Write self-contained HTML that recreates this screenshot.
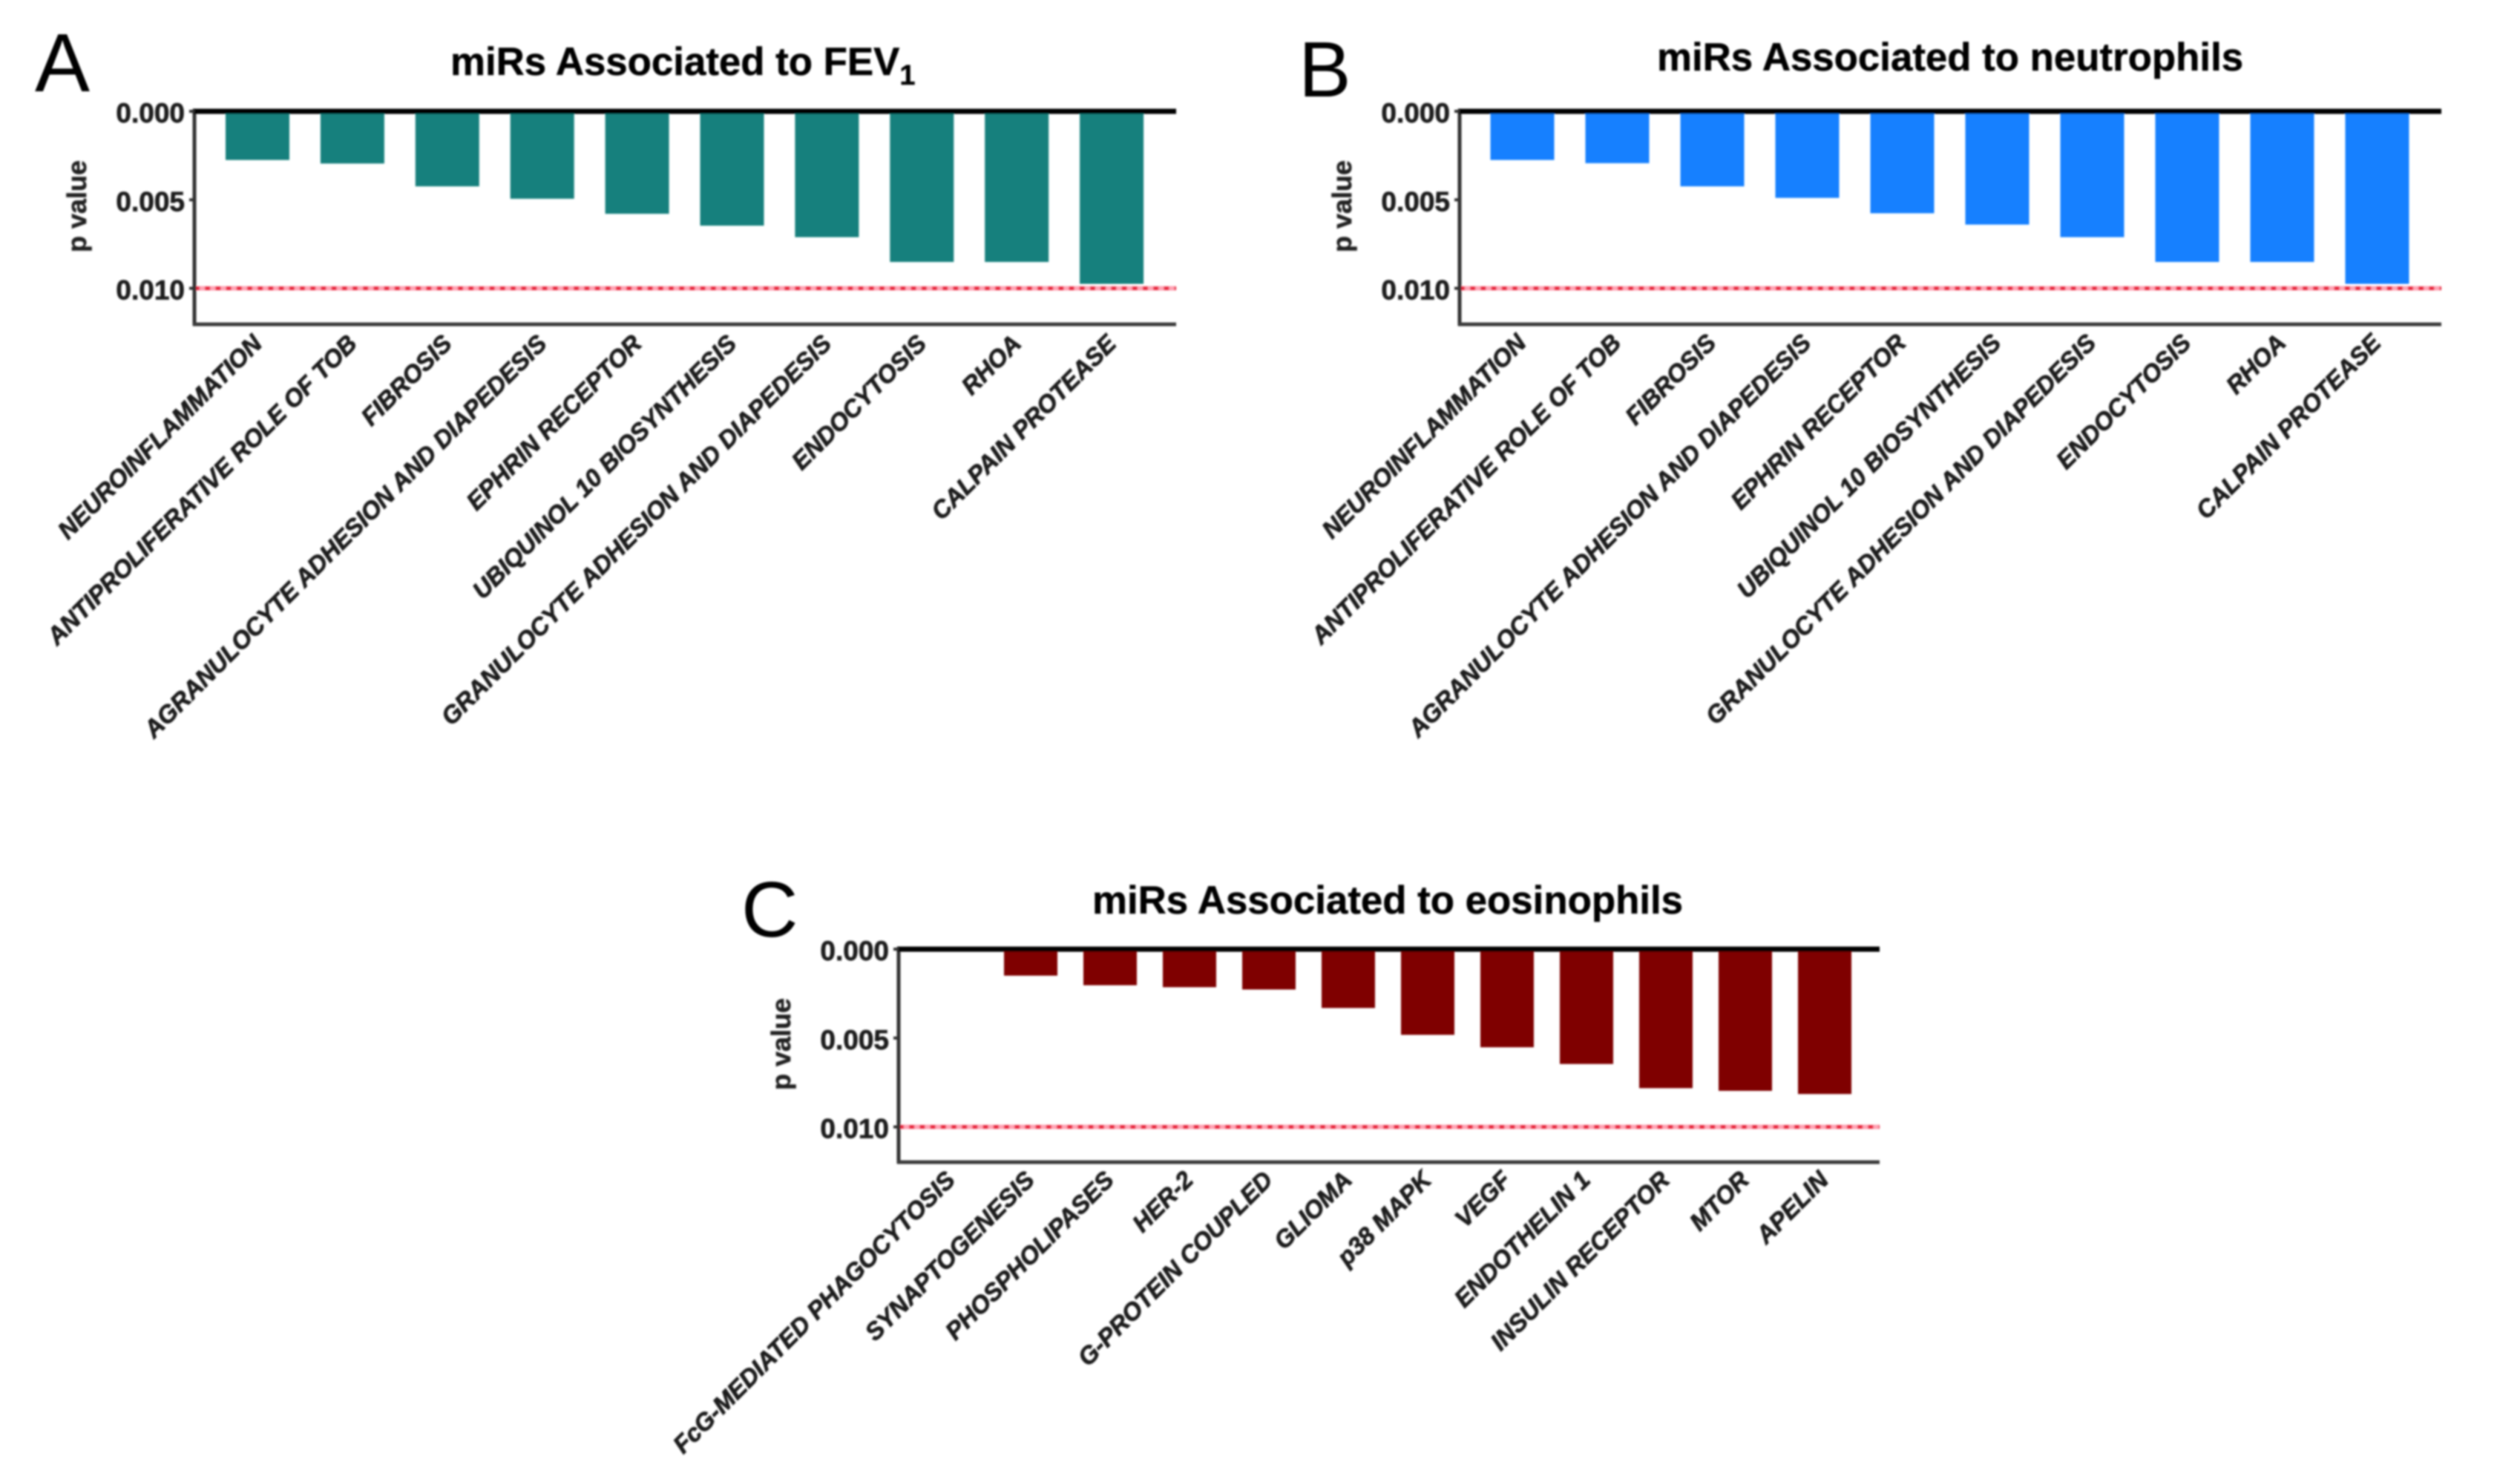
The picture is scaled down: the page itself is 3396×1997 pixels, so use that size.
<!DOCTYPE html>
<html>
<head>
<meta charset="utf-8">
<title>miRs p value bar charts</title>
<style>
html,body{margin:0;padding:0;background:#fff;width:3396px;height:1997px;overflow:hidden}
svg{display:block}
text{font-family:"Liberation Sans",Arial,sans-serif;fill:#111}
</style>
</head>
<body>
<svg id="figure" xmlns="http://www.w3.org/2000/svg" width="3396" height="1997" viewBox="0 0 3396 1997">
<defs>
<filter id="soft" x="-2%" y="-2%" width="104%" height="104%"><feGaussianBlur stdDeviation="1.3"/></filter>
</defs>
<rect width="3396" height="1997" fill="#fff"/>
<g id="root" filter="url(#soft)"></g>
</svg>
<script>
var labelsA = ["NEUROINFLAMMATION","ANTIPROLIFERATIVE ROLE OF TOB","FIBROSIS","AGRANULOCYTE ADHESION AND DIAPEDESIS","EPHRIN RECEPTOR","UBIQUINOL 10 BIOSYNTHESIS","GRANULOCYTE ADHESION AND DIAPEDESIS","ENDOCYTOSIS","RHOA","CALPAIN PROTEASE"];
var valuesA = [0.00275,0.00295,0.00424,0.00494,0.00579,0.00646,0.00711,0.00851,0.00851,0.00975];
var labelsB = ["NEUROINFLAMMATION","ANTIPROLIFERATIVE ROLE OF TOB","FIBROSIS","AGRANULOCYTE ADHESION AND DIAPEDESIS","EPHRIN RECEPTOR","UBIQUINOL 10 BIOSYNTHESIS","GRANULOCYTE ADHESION AND DIAPEDESIS","ENDOCYTOSIS","RHOA","CALPAIN PROTEASE"];
var valuesB = [0.00275,0.00293,0.00424,0.00489,0.00576,0.00640,0.00711,0.00851,0.00851,0.00975];
var labelsC = ["FcG-MEDIATED PHAGOCYTOSIS","SYNAPTOGENESIS","PHOSPHOLIPASES","HER-2","G-PROTEIN COUPLED","GLIOMA","p38 MAPK","VEGF","ENDOTHELIN 1","INSULIN RECEPTOR","MTOR","APELIN"];
var valuesC = [0,0.00149,0.00203,0.00214,0.00227,0.00331,0.00482,0.00552,0.00646,0.00782,0.00797,0.00815];
var yTicks = [0,0.005,0.01];
var yTickLabels = ["0.000","0.005","0.010"];
var thresholdValue = 0.01;

var NS = "http://www.w3.org/2000/svg";
var root = document.getElementById("root");

function make(tag, attrs, parent, txt) {
  var el = document.createElementNS(NS, tag);
  for (var k in attrs) { el.setAttribute(k, attrs[k]); }
  if (txt !== undefined) { el.textContent = txt; }
  parent.appendChild(el);
  return el;
}

function drawPanel(cfg, labels, values) {
  var g = make("g", {}, root);
  
  

  function xScale(i) { return cfg.x0 + cfg.step * i; }
  function yScale(v) { return cfg.yZero + v * cfg.yPerUnit; }

  var letter = make("text", {x: cfg.letterX, y: cfg.letterY, "font-size": cfg.letterSize, style: "fill:#000"}, g, cfg.letter);
  
  

  var title = make("text", {x: cfg.titleX, y: cfg.titleY, "font-size": 52.8, "font-weight": "bold", style: "fill:#000;stroke:#000;stroke-width:0.5"}, g, cfg.title);
  
  
  if (cfg.titleSub) {
    var sub = make("tspan", {"font-size": 38, dy: 13}, title, cfg.titleSub);
    
    
  }

  values.forEach(function (v, i) {
    var bar = make("rect", {
      x: xScale(i) - cfg.barW / 2,
      y: yScale(0),
      width: cfg.barW,
      height: Math.max(0, yScale(v) - yScale(0)),
      fill: cfg.color
    }, g);
    
    
  });

  var band = make("line", {x1: cfg.left, x2: cfg.right, y1: yScale(thresholdValue), y2: yScale(thresholdValue), stroke: "#ffa3b4", "stroke-width": 6}, g);
  
  
  var dots = make("line", {x1: cfg.left, x2: cfg.right, y1: yScale(thresholdValue), y2: yScale(thresholdValue), stroke: "#e8203c", "stroke-width": 5, "stroke-dasharray": "7 7.2"}, g);
  
  

  var yAxis = make("line", {x1: cfg.left, x2: cfg.left, y1: cfg.yZero - 3, y2: cfg.bottom + 2, stroke: "#333", "stroke-width": 5}, g);
  
  
  var xAxis = make("line", {x1: cfg.left - 2, x2: cfg.right, y1: cfg.bottom, y2: cfg.bottom, stroke: "#3a3a3a", "stroke-width": 5}, g);
  
  
  var zero = make("line", {x1: cfg.left - 2, x2: cfg.right, y1: yScale(0), y2: yScale(0), stroke: "#000", "stroke-width": 7}, g);
  
  

  yTicks.forEach(function (t, i) {
    var tick = make("line", {x1: cfg.left - 7, x2: cfg.left, y1: yScale(t), y2: yScale(t), stroke: "#333", "stroke-width": 4}, g);
    
    
    var lab = make("text", {x: cfg.left - 13, y: yScale(t) + 15, "font-size": 37, "font-weight": "bold", "text-anchor": "end", style: "fill:#1a1a1a;stroke:#1a1a1a;stroke-width:0.7"}, g, yTickLabels[i]);
    
    
  });

  var yTitle = make("text", {
    transform: "translate(" + (cfg.left - 146) + "," + (cfg.yZero + 128) + ") rotate(-90)",
    "font-size": 36, "font-weight": "bold", "text-anchor": "middle", style: "fill:#222;stroke:#222;stroke-width:0.6"
  }, g, "p value");
  
  

  labels.forEach(function (s, i) {
    var tx = xScale(i) + cfg.labelDx;
    var ty = cfg.bottom + cfg.labelDy;
    var lab = make("text", {
      transform: "translate(" + tx + "," + ty + ") rotate(-45)",
      "font-size": cfg.labelSize, "font-weight": "bold", "font-style": "italic", "text-anchor": "end", style: "fill:#1a1a1a;stroke:#1a1a1a;stroke-width:0.8"
    }, g, s);
    
    
  });
}

drawPanel({id: "a", letter: "A", letterSize: 111, letterX: 47, letterY: 123, title: "miRs Associated to FEV", titleSub: "1", titleX: 607, titleY: 101,
  color: "#12807d", x0: 347, step: 127.9, barW: 86, left: 262, right: 1585, yZero: 150, yPerUnit: 23850, bottom: 437,
  labelDx: 8, labelDy: 28, labelSize: 33.1}, labelsA, valuesA);

drawPanel({id: "b", letter: "B", letterSize: 106, letterX: 1750, letterY: 130, title: "miRs Associated to neutrophils", titleX: 2233, titleY: 95,
  color: "#1380ff", x0: 2051.5, step: 128, barW: 86, left: 1967, right: 3290, yZero: 150, yPerUnit: 23850, bottom: 437,
  labelDx: 7, labelDy: 27, labelSize: 33.1}, labelsB, valuesB);

drawPanel({id: "c", letter: "C", letterSize: 106, letterX: 999, letterY: 1262, title: "miRs Associated to eosinophils", titleX: 1472, titleY: 1231,
  color: "#7f0000", x0: 1282, step: 107, barW: 72, left: 1211, right: 2533, yZero: 1279, yPerUnit: 23950, bottom: 1566,
  labelDx: 7, labelDy: 26, labelSize: 33.1}, labelsC, valuesC);
</script>
</body>
</html>
